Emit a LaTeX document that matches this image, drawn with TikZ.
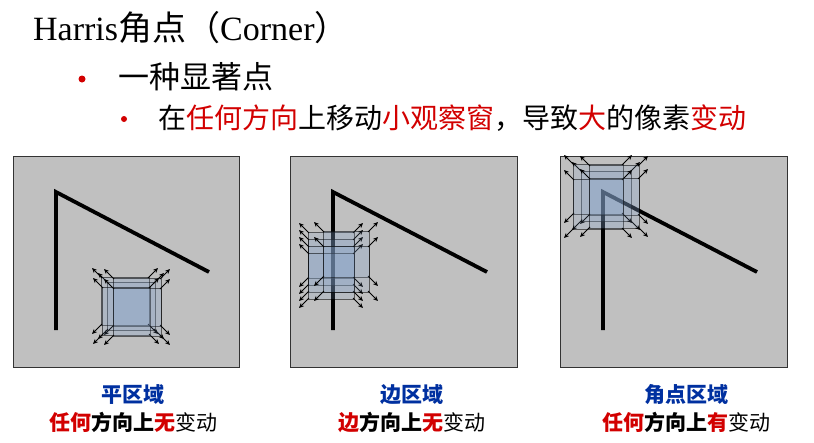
\documentclass[tikz,border=0pt]{standalone}
\usepackage{fontspec}
\setmainfont{Liberation Serif}
\newfontfamily\cjk{Noto Sans CJK SC}
\usetikzlibrary{arrows.meta,positioning}
\definecolor{hred}{RGB}{210,0,0}
\definecolor{hblue}{RGB}{0,48,160}
\definecolor{panelgray}{RGB}{192,192,192}
\definecolor{winblue}{RGB}{135,165,205}
\tikzset{%
	panel/.style    = {draw=black!80, fill=panelgray, line width=0.8pt},
	edgeline/.style = {line width=3.8pt, line join=miter},
	win/.style      = {draw=black, fill=winblue, fill opacity=0.17, draw opacity=0.55, line width=0.9pt},
	winarrow/.style = {-{Stealth[length=5pt,width=4.5pt]}, line width=0.9pt},
	bullet/.style   = {circle, fill=hred, inner sep=0pt},
	caption/.style  = {inner sep=0pt, font=\cjk\bfseries\fontsize{21}{21}\selectfont},
}
% square window centred at (#1,#2), half side #3, with corner arrows
\newcommand{\movewin}[3]{%
	\draw[win] ({#1-#3},{#2-#3}) rectangle ({#1+#3},{#2+#3});
	\foreach \sx/\sy in {-1/-1,1/-1,1/1,-1/1}
		\draw[winarrow] ({#1+\sx*(#3-1)},{#2+\sy*(#3-1)}) -- ({#1+\sx*(#3+9)},{#2+\sy*(#3+9)});
}

\begin{document}
\begin{tikzpicture}[x=1pt,y=-1pt]
	\useasboundingbox (0,0) rectangle (814,442);

	% heading and bullets
	\node[anchor=west,inner sep=0pt,font=\fontsize{34}{34}\selectfont] (title) at (33,28) {Harris{\cjk 角点（}Corner{\cjk ）}};
	\node[bullet,minimum size=7pt] (b1) at (82,79) {};
	\node[anchor=west,inner sep=0pt,font=\cjk\fontsize{31}{31}\selectfont] (l1) at (118,77) {一种显著点};
	\node[bullet,minimum size=6pt] (b2) at (124,119) {};
	\node[anchor=west,inner sep=0pt,font=\cjk\fontsize{28}{28}\selectfont] (l2) at (158,118)
		{在\textcolor{hred}{任何方向}上移动\textcolor{hred}{小观察窗}，导致\textcolor{hred}{大}的像素\textcolor{hred}{变动}};

	% flat region
	\draw[panel] (13,156) rectangle (239,367);
	\draw[edgeline] (56,330) -- (56,192) -- (209,272);
	\foreach \dx/\dy in {0/0,-6/-5,6/-4,-5/5,6/6}
		{\movewin{131+\dx}{306+\dy}{24}}

	% edge region
	\draw[panel] (290,156) rectangle (517,367);
	\draw[edgeline] (333,330) -- (333,192) -- (487,272);
	\foreach \cx/\cy in {331/255,331/262,331/269,331/276,346/254,346/269}
		{\movewin{\cx}{\cy}{23}}

	% corner region
	\draw[panel] (560,156) rectangle (787,367);
	\draw[edgeline] (603,330) -- (603,192) -- (757,272);
	\foreach \cx/\cy in {606/196,598/189,614/190,598/204,614/203}
		{\movewin{\cx}{\cy}{25}}

	% captions
	\node[caption,text=hblue] (c1) at (133,395) {平区域};
	\node[caption,below=7pt of c1] (d1) {\textcolor{hred}{任何}方向上\textcolor{hred}{无}{\mdseries 变动}};
	\node[caption,text=hblue] (c2) at (412,395) {边区域};
	\node[caption,below=7pt of c2] (d2) {\textcolor{hred}{边}方向上\textcolor{hred}{无}{\mdseries 变动}};
	\node[caption,text=hblue] (c3) at (686,395) {角点区域};
	\node[caption,below=7pt of c3] (d3) {\textcolor{hred}{任何}方向上\textcolor{hred}{有}{\mdseries 变动}};
\end{tikzpicture}
\end{document}
